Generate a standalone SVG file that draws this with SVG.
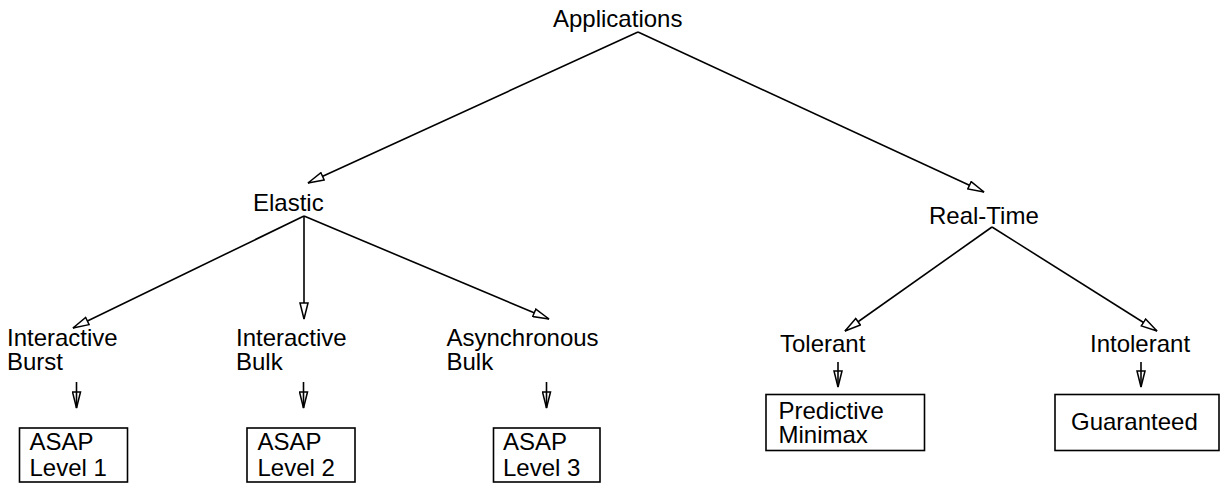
<svg xmlns="http://www.w3.org/2000/svg" width="1225" height="483" viewBox="0 0 1225 483">
<defs>
<style>
text{font-family:"Liberation Sans",Arial,sans-serif;font-size:24px;fill:#000}
.c line{stroke:#000;stroke-width:1.6;fill:none}
.box{fill:#fff;stroke:#000;stroke-width:1.6}
</style>
<marker id="a" markerUnits="userSpaceOnUse" markerWidth="18" markerHeight="10" refX="16" refY="4" orient="auto" viewBox="-1 -1 18 10">
<path d="M0,0 L16,4 L0,8 Z" fill="#fff" stroke="#000" stroke-width="1.5"/>
</marker>
<marker id="s" markerUnits="userSpaceOnUse" markerWidth="18" markerHeight="10" refX="16" refY="4" orient="auto" viewBox="-1 -1 18 10">
<path d="M0,0 L16,4 L0,8 Z" fill="none" stroke="#000" stroke-width="1.5"/>
</marker>
</defs>
<rect width="1225" height="483" fill="#fff"/>
<g id="connectors" class="c">
<line x1="638" y1="32" x2="308" y2="183" marker-end="url(#a)"/>
<line x1="638" y1="32" x2="984" y2="192" marker-end="url(#a)"/>
<line x1="304" y1="216" x2="73" y2="328" marker-end="url(#a)"/>
<line x1="304" y1="216" x2="304" y2="319" marker-end="url(#a)"/>
<line x1="304" y1="216" x2="549" y2="319" marker-end="url(#a)"/>
<line x1="992" y1="227" x2="845" y2="331" marker-end="url(#a)"/>
<line x1="992" y1="227" x2="1157" y2="331" marker-end="url(#a)"/>
<line x1="76.5" y1="382" x2="76.5" y2="408" marker-end="url(#s)"/>
<line x1="303.5" y1="382" x2="303.5" y2="408" marker-end="url(#s)"/>
<line x1="546.5" y1="382" x2="546.5" y2="408" marker-end="url(#s)"/>
<line x1="838" y1="362" x2="838" y2="387" marker-end="url(#s)"/>
<line x1="1141" y1="362" x2="1141" y2="387" marker-end="url(#s)"/>
</g>
<g id="applications"><text x="553" y="27">Applications</text></g>
<g id="elastic"><text x="253" y="211">Elastic</text></g>
<g id="realtime"><text x="929" y="224">Real-Time</text></g>
<g id="interactive-burst"><text x="7" y="345.5">Interactive</text><text x="7" y="369.5">Burst</text></g>
<g id="interactive-bulk"><text x="236" y="345.5">Interactive</text><text x="236" y="369.5">Bulk</text></g>
<g id="asynchronous-bulk"><text x="446.5" y="345.5">Asynchronous</text><text x="446.5" y="369.5">Bulk</text></g>
<g id="tolerant"><text x="780" y="352">Tolerant</text></g>
<g id="intolerant"><text x="1090" y="352">Intolerant</text></g>
<g id="asap1"><rect class="box" x="19.5" y="428" width="108" height="54"/><text x="29.5" y="450">ASAP</text><text x="29.5" y="475.5">Level 1</text></g>
<g id="asap2"><rect class="box" x="247" y="428" width="108" height="54"/><text x="257.5" y="450">ASAP</text><text x="257.5" y="475.5">Level 2</text></g>
<g id="asap3"><rect class="box" x="493.5" y="428" width="106.5" height="54"/><text x="503" y="450">ASAP</text><text x="503" y="475.5">Level 3</text></g>
<g id="predictive-minimax"><rect class="box" x="766" y="394.5" width="158.5" height="56"/><text x="778.5" y="418.5">Predictive</text><text x="778.5" y="442.5">Minimax</text></g>
<g id="guaranteed"><rect class="box" x="1055" y="394.5" width="164" height="56"/><text x="1071" y="430">Guaranteed</text></g>
</svg>
